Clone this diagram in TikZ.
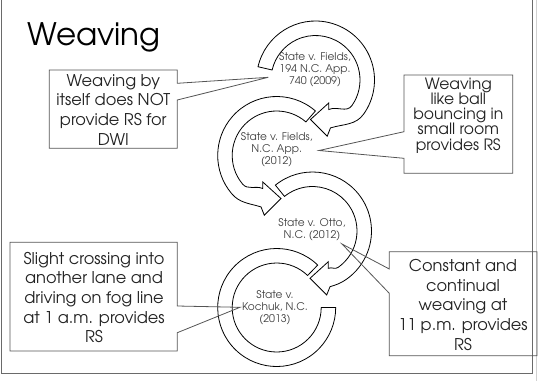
\documentclass[tikz,border=0pt]{standalone}
\usepackage{fontspec}
\setmainfont{texgyreadventor}[Extension=.otf,UprightFont=*-regular,BoldFont=*-bold,ItalicFont=*-italic,BoldItalicFont=*-bolditalic]
\usetikzlibrary{calc}
\definecolor{framegray}{HTML}{6A6A6A}
\definecolor{boxline}{HTML}{555555}
\definecolor{boxtxt}{HTML}{222222}
\definecolor{circtxt}{HTML}{404040}
\begin{document}
\begin{tikzpicture}[x=1pt,y=1pt,
  ring/.style={draw=black,line width=0.8pt,fill=white,line join=miter},
  callout/.style={draw=boxline,line width=0.8pt},
  frameline/.style={draw=framegray,line width=0.9pt},
  boxtext/.style={align=center,text=boxtxt,inner sep=0pt,font=\fontsize{16.2}{19.6}\selectfont},
  tightbox/.style={boxtext,font=\fontsize{15.6}{15.2}\selectfont},
  circtext/.style={align=center,text=circtxt,inner sep=0pt,font=\fontsize{10.6}{11.8}\selectfont}]
\useasboundingbox (0,0) rectangle (538,-381);
% slide frame
\draw[frameline] (1.5,2) -- (1.5,-373) -- (532.5,-373) -- (532.5,2);
\draw[draw=black!18,line width=0.6pt] (536.5,0) -- (536.5,-381);
% title
\node[anchor=base west,inner sep=0pt,font=\fontsize{31}{31}\selectfont] (title) at (27,-45) {Weaving};
% centres and arrow tips
\coordinate (c1) at (315.5,-80);
\coordinate (c2) at (276.7,-155.5);
\coordinate (c3) at (312.5,-231);
\coordinate (c4) at (276.7,-307.5);
\coordinate (t1) at (310.5,-119.5);
\coordinate (t2) at (281,-198.5);
\coordinate (t3) at (310,-278.3);
% ring 4 (no head)
\draw[ring] ($(c4)+(46:59)$) arc[start angle=46,end angle=360,radius=59]
  -- ($(c4)+(0:44.5)$) arc[start angle=360,end angle=46,radius=44.5] -- cycle;
% ring 3 (clockwise)
\draw[ring] ($(c3)+(129:59)$) arc[start angle=129,end angle=-55,radius=59]
  to[out=-145,in=17] ($(t3)+(20,-8.4)$) -- ($(t3)+(16.7,-16.7)$) -- (t3)
  -- ($(t3)+(18.3,16.6)$) -- ($(t3)+(18.3,10)$)
  to[out=23,in=-145] ($(c3)+(-55:44.5)$) arc[start angle=-55,end angle=129,radius=44.5] -- cycle;
% ring 2 (counter-clockwise)
\draw[ring] ($(c2)+(49:59)$) arc[start angle=49,end angle=220,radius=59]
  to[out=-50,in=163] ($(t2)+(-20,-8.4)$) -- ($(t2)+(-16.7,-16.7)$) -- (t2)
  -- ($(t2)+(-18.3,16.6)$) -- ($(t2)+(-18.3,10)$)
  to[out=157,in=-50] ($(c2)+(220:44.5)$) arc[start angle=220,end angle=49,radius=44.5] -- cycle;
% ring 1 (clockwise)
\draw[ring] ($(c1)+(167:59)$) arc[start angle=167,end angle=-35,radius=59]
  to[out=-125,in=17] ($(t1)+(20,-8.4)$) -- ($(t1)+(16.7,-16.7)$) -- (t1)
  -- ($(t1)+(18.3,16.6)$) -- ($(t1)+(18.3,10)$)
  to[out=23,in=-125] ($(c1)+(-35:44.5)$) arc[start angle=-35,end angle=167,radius=44.5] -- cycle;
% case names
\node[circtext] (k1) at (315,-69.5) {State v. Fields,\\194 N.C. App.\\740 (2009)};
\node[circtext] (k2) at (276.7,-150) {State v. Fields,\\N.C. App.\\(2012)};
\node[circtext] (k3) at (312,-230) {State v. Otto,\\N.C. (2012)};
\node[circtext] (k4) at (275,-307.5) {State v.\\Kochuk, N.C.\\(2013)};
% callout pointer tips
\coordinate (p1) at (268.3,-77.3);
\coordinate (p2) at (319,-150.5);
\coordinate (p3) at (342,-244);
\coordinate (p4) at (240,-307.3);
% callouts
\draw[callout] (49.3,-70) -- (177.3,-70) -- (177.3,-83.3) -- (p1) -- (177.3,-100)
  -- (177.3,-148.3) -- (49.3,-148.3) -- cycle;
\draw[callout] (404,-75) -- (512.7,-75) -- (512.7,-173.3) -- (404,-173.3) -- (404,-158.3)
  -- (p2) -- (404,-131.7) -- cycle;
\draw[callout] (389.3,-251.7) -- (537,-251.7) -- (537,-355.7) -- (389.3,-355.7) -- (389.3,-293.3)
  -- (p3) -- (389.3,-269) -- cycle;
\draw[callout] (10,-242.3) -- (177.3,-242.3) -- (177.3,-306) -- (p4) -- (177.3,-332.7)
  -- (177.3,-351) -- (10,-351) -- cycle;
\node[boxtext] (b1) at (113.3,-109.7) {Weaving by\\itself does NOT\\provide RS for\\DWI};
\node[tightbox] (b2) at (458.3,-115.5) {Weaving\\like ball\\bouncing in\\small room\\provides RS};
\node[boxtext] (b3) at (463,-305) {Constant and\\continual\\weaving at\\11 p.m. provides\\RS};
\node[boxtext] (b4) at (94,-297.5) {Slight crossing into\\another lane and\\driving on fog line\\at 1 a.m. provides\\RS};
\end{tikzpicture}
\end{document}
